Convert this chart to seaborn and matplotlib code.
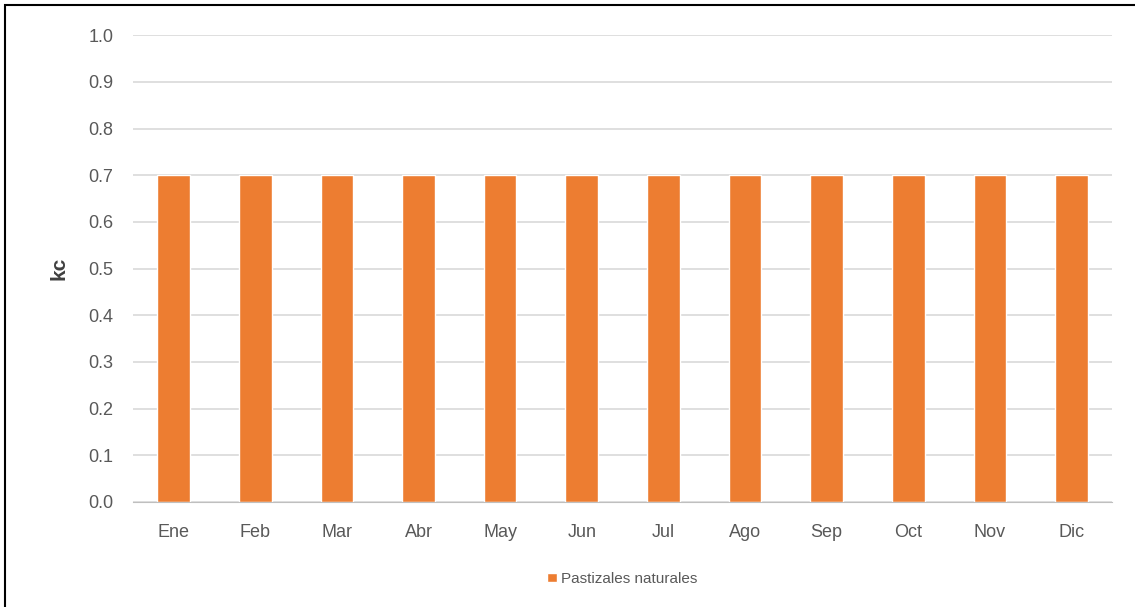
import matplotlib
matplotlib.use("Agg")
import matplotlib.pyplot as plt
import pandas as pd
import seaborn as sns
from matplotlib.patches import Rectangle

meses = ["Ene", "Feb", "Mar", "Abr", "May", "Jun", "Jul", "Ago", "Sep", "Oct", "Nov", "Dic"]
kc = [0.7, 0.7, 0.7, 0.7, 0.7, 0.7, 0.7, 0.7, 0.7, 0.7, 0.7, 0.7]
serie = "Pastizales naturales"
yticks = [0.0, 0.1, 0.2, 0.3, 0.4, 0.5, 0.6, 0.7, 0.8, 0.9, 1.0]

df = pd.DataFrame({"Mes": meses, "kc": kc, "Serie": serie})

sns.set_style("white")
plt.rcParams["font.family"] = ["Liberation Sans", "DejaVu Sans"]

fig = plt.figure(figsize=(11.35, 6.07), dpi=100)
ax = fig.add_axes([0.117, 0.173, 0.863, 0.769])

sns.barplot(data=df, x="Mes", y="kc", hue="Serie", palette=["#ED7D31"],
            width=0.4, ax=ax, saturation=1)

ax.set_ylim(0, 1.0)
ax.set_yticks(yticks)
ax.set_yticklabels([f"{t:.1f}" for t in yticks])
ax.set_xlim(-0.5, len(meses) - 0.5)
ax.yaxis.grid(True, color="#d9d9d9", linewidth=1.2)
ax.set_axisbelow(True)
for s in ["top", "right", "left"]:
    ax.spines[s].set_visible(False)
ax.spines["bottom"].set_color("#bfbfbf")
ax.tick_params(axis="both", colors="#595959", labelsize=13, length=0)
ax.tick_params(axis="x", pad=16)
ax.tick_params(axis="y", pad=14)
ax.set_xlabel("")
ax.set_ylabel("kc", fontsize=15, fontweight="bold", color="#404040", labelpad=14)

ax.legend(loc="upper center", bbox_to_anchor=(0.5, -0.12), frameon=False,
          fontsize=11, labelcolor="#595959", handlelength=0.6, handleheight=0.6,
          handletextpad=0.3)

# outer border of the original image
fig.patches.append(Rectangle((5 / 1135, -0.01), 1.02, 1 - 5 / 607 + 0.01,
                             transform=fig.transFigure, fill=False,
                             edgecolor="black", linewidth=1.5))

fig.savefig("out.png", dpi=100, facecolor="white")
